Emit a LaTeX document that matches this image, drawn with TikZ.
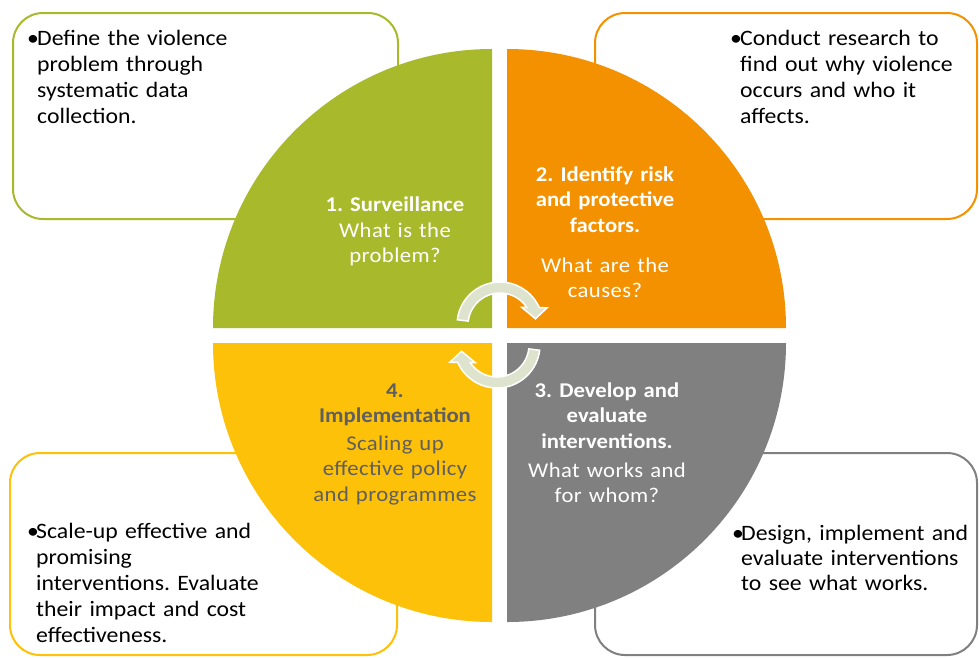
\documentclass[tikz,border=0pt]{standalone}
\usepackage{fontspec}
\setmainfont[FakeStretch=1.08]{Carlito}
\newfontfamily\qregfont[FakeStretch=1.08, LetterSpace=2]{Carlito}
\frenchspacing
\definecolor{qgreen}{HTML}{A8B92B}
\definecolor{qorange}{HTML}{F49100}
\definecolor{qgray}{HTML}{808080}
\definecolor{qyellow}{HTML}{FCC108}
\definecolor{ytext}{HTML}{5F5F5F}
\definecolor{arrowfill}{HTML}{DEE3CD}
\begin{document}
\begin{tikzpicture}[x=1pt,y=-1pt,
  box/.style={line width=2pt, rounded corners=30pt},
  bul/.style={anchor=base west, inner sep=0pt, font=\fontsize{22}{26}\selectfont},
  boxtxt/.style={anchor=base west, inner sep=0pt, align=left, text width=260pt, font=\fontsize{22}{26}\selectfont},
  qtitle/.style={anchor=base, inner sep=0pt, align=center, text width=220pt, font=\bfseries\fontsize{21}{25.5}\selectfont},
  qsub/.style={anchor=base, inner sep=0pt, align=center, text width=220pt, font=\qregfont\fontsize{21}{25.5}\selectfont},
  cycarrow/.pic={
    \path[fill=arrowfill, draw=white, line width=1.5pt, line join=miter]
      (187:43) arc[start angle=187, end angle=336, radius=43]
      -- (340:50) -- (350:36) -- (321:28) -- (326.5:32)
      arc[start angle=326.5, end angle=187, radius=32] -- cycle;
  }
]
\useasboundingbox (0,0) rectangle (979,657);
\fill[white] (0,0) rectangle (979,657);
% outer boxes
\draw[box, draw=qgreen]  (13,13) rectangle (398,219);
\draw[box, draw=qorange] (595,13) rectangle (977,219);
\draw[box, draw=qyellow] (10,453) rectangle (397,655);
\draw[box, draw=qgray]   (595,453) rectangle (977,655);
% quadrants
\fill[qgreen]  (492,328) -- ++(180:279) arc[start angle=180, end angle=270, radius=279] -- cycle;
\fill[qorange] (507,328) -- ++(270:279) arc[start angle=270, end angle=360, radius=279] -- cycle;
\fill[qgray]   (507,343) -- ++(0:279) arc[start angle=0, end angle=90, radius=279] -- cycle;
\fill[qyellow] (492,343) -- ++(90:279) arc[start angle=90, end angle=180, radius=279] -- cycle;
% cycle arrows
\pic at (500,325) {cycarrow};
\pic[rotate=180] at (497,345) {cycarrow};
% box texts
\node[bul] (b1) at (27,45) {•};
\node[boxtxt] (t1) at (37,45) {Define the violence\\problem through\\systematic data\\collection.};
\node[bul] (b2) at (730,45) {•};
\node[boxtxt] (t2) at (740,45) {Conduct research to\\find out why violence\\occurs and who it\\affects.};
\node[bul] (b4) at (27,538) {•};
\node[boxtxt] (t4) at (36,538) {Scale-up effective and\\promising\\interventions. Evaluate\\their impact and cost\\effectiveness.};
\node[bul] (b3) at (732,540) {•};
\node[boxtxt, font=\fontsize{22}{25}\selectfont] (t3) at (741,540) {Design, implement and\\evaluate interventions\\to see what works.};
% quadrant texts
\node[qtitle, text=white] (q1) at (395,211) {1. Surveillance};
\node[qsub, text=white] (s1) at (395,237) {What is the\\problem?};
\node[qtitle, text=white] (q2) at (605,181) {2. Identify risk\\and protective\\factors.};
\node[qsub, text=white] (s2) at (605,272) {What are the\\causes?};
\node[qtitle, text=white] (q3) at (607,397) {3. Develop and\\evaluate\\interventions.};
\node[qsub, text=white] (s3) at (607,477) {What works and\\for whom?};
\node[qtitle, text=ytext] (q4) at (395,397) {4.\\Implementation};
\node[qsub, text=ytext] (s4) at (395,450) {Scaling up\\effective policy\\and programmes};
\end{tikzpicture}
\end{document}
